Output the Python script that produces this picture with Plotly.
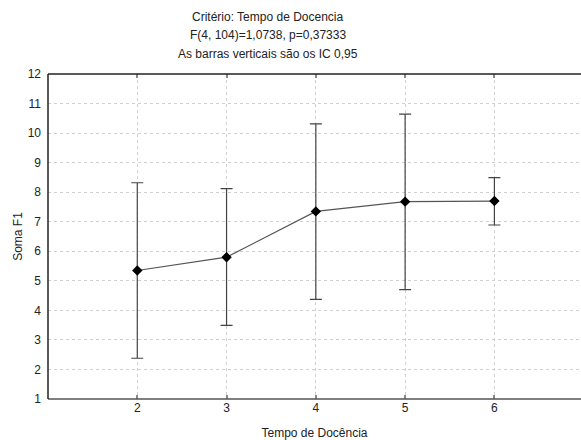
import plotly.graph_objects as go

tempo = [2, 3, 4, 5, 6]
media = [5.35, 5.80, 7.35, 7.68, 7.70]
ic_inf = [2.38, 3.49, 4.37, 4.70, 6.89]
ic_sup = [8.32, 8.12, 10.31, 10.64, 8.49]
y_ticks = list(range(1, 13))
x_ticks = [2, 3, 4, 5, 6]

err_plus = [s - m for s, m in zip(ic_sup, media)]
err_minus = [m - i for m, i in zip(media, ic_inf)]

fig = go.Figure()
fig.add_trace(go.Scatter(
    x=tempo, y=media, mode="lines+markers",
    line=dict(color="#555555", width=1.2),
    marker=dict(symbol="diamond", size=8, color="black"),
    error_y=dict(type="data", symmetric=False, array=err_plus, arrayminus=err_minus,
                 color="#444444", thickness=1.2, width=6),
    showlegend=False,
))

font = dict(family="Liberation Sans, Arial, sans-serif", size=12, color="#222222")
titles = ["Critério: Tempo de Docencia", "F(4, 104)=1,0738, p=0,37333",
          "As barras verticais são os IC 0,95"]
ys = [17, 35, 54]
for t, yy in zip(titles, ys):
    fig.add_annotation(text=t, xref="paper", yref="paper",
                       x=(268 - 48) / 533, y=(440 - 41 - yy) / 325,
                       xanchor="center", yanchor="middle", showarrow=False,
                       font=font)

# frame lines: top, bottom, left
fig.add_shape(type="line", xref="paper", yref="paper", x0=0, x1=1, y0=1, y1=1,
              line=dict(color="#222222", width=1.5))
fig.add_shape(type="line", xref="paper", yref="paper", x0=0, x1=1, y0=0, y1=0,
              line=dict(color="#555555", width=1.5))
fig.add_shape(type="line", xref="paper", yref="paper", x0=0, x1=0, y0=0, y1=1,
              line=dict(color="#222222", width=1.5))

fig.update_layout(
    width=581, height=440,
    margin=dict(l=48, r=0, t=74, b=41),
    paper_bgcolor="white", plot_bgcolor="white",
    font=font,
    xaxis=dict(range=[1, 6.97], tickvals=x_ticks, ticktext=[str(v) for v in x_ticks],
               showline=False, mirror="ticks",
               ticks="inside", ticklen=4, tickcolor="#888888", tickwidth=1.5,
               showgrid=True, gridcolor="#d0d0d0", griddash="dot", gridwidth=1,
               zeroline=False,
               title=dict(text="Tempo de Docência", standoff=14, font=font)),
    yaxis=dict(range=[1, 12], tickvals=y_ticks, mirror=False,
               showline=False,
               ticks="", ticklabelstandoff=6,
               showgrid=True, gridcolor="#d0d0d0", griddash="dot", gridwidth=1,
               zeroline=False,
               title=dict(text="Soma F1", standoff=2, font=font)),
)

fig.write_html("out.html")
